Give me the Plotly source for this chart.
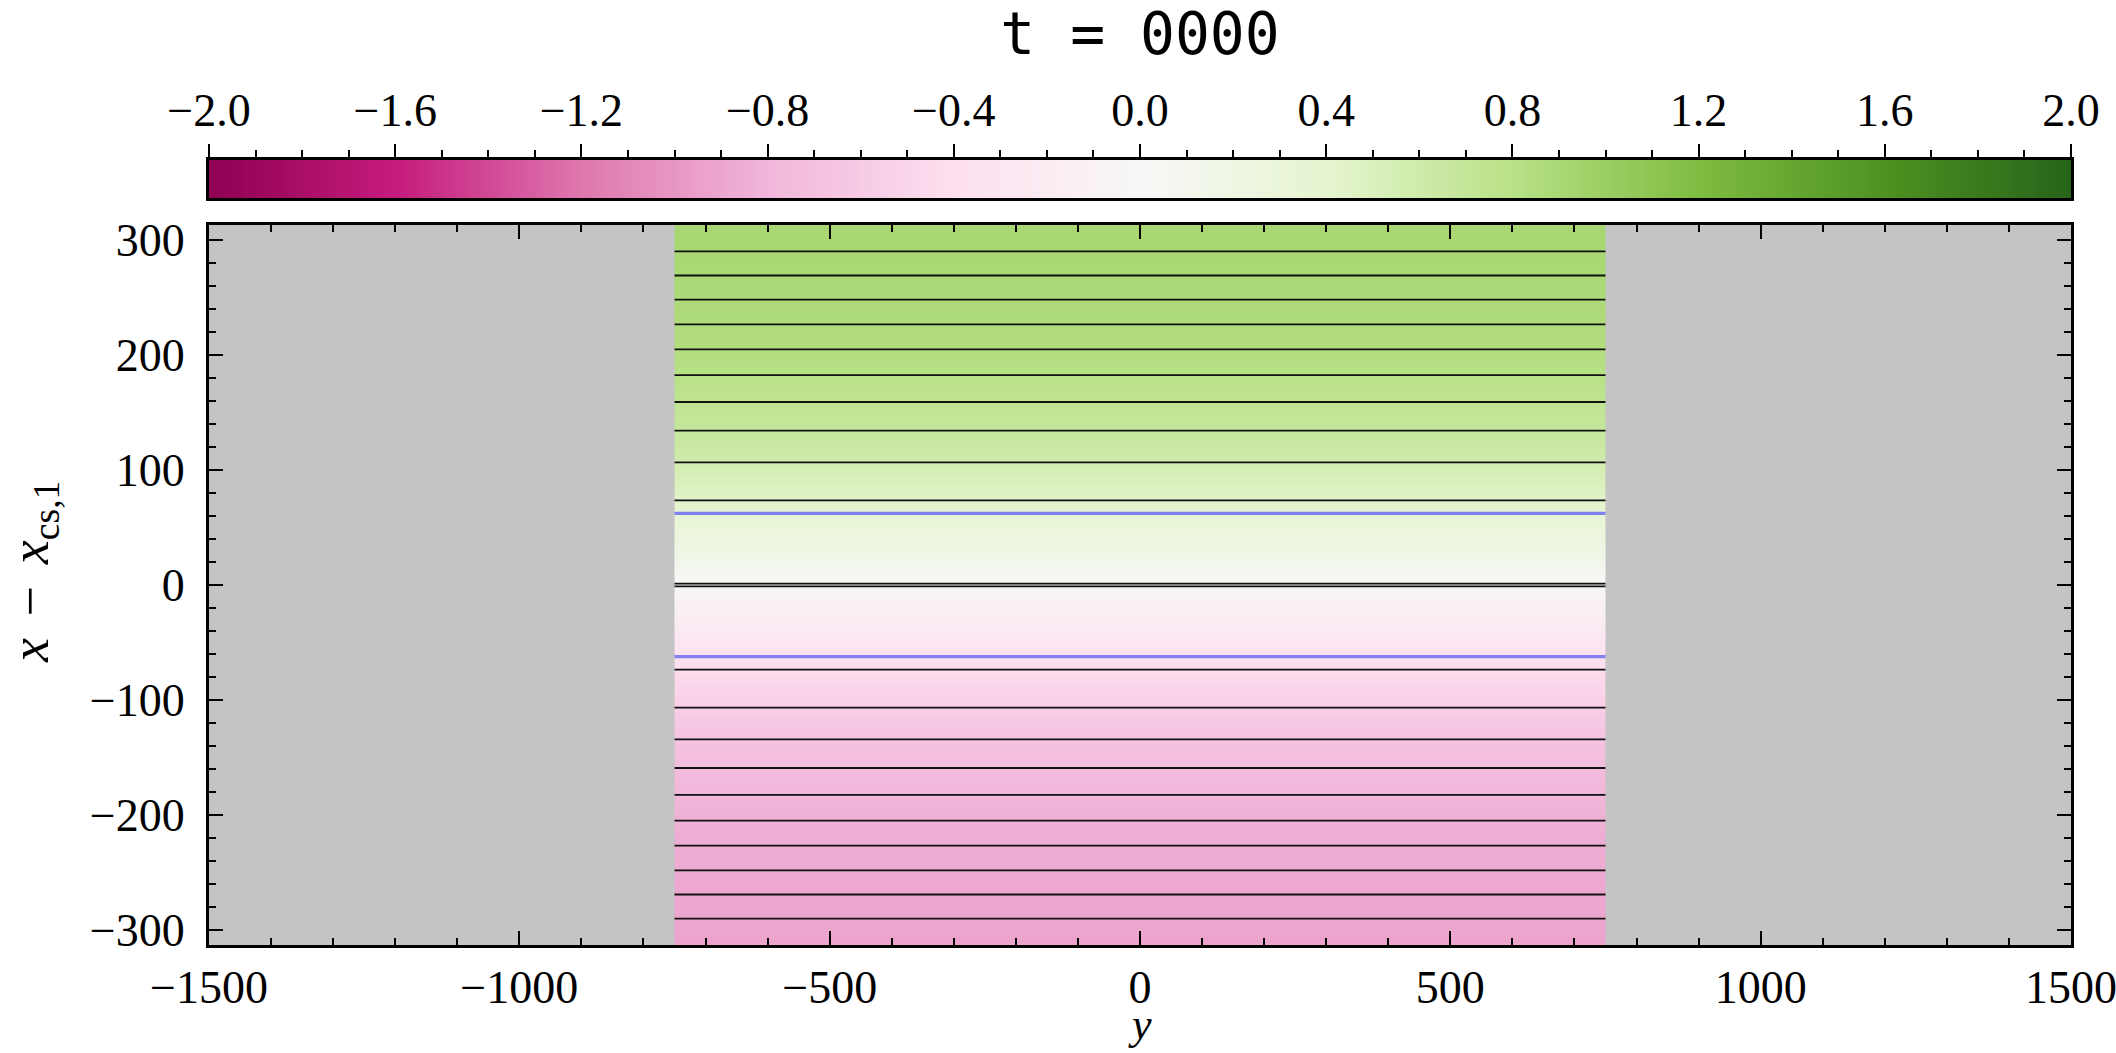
import numpy as np
import plotly.graph_objects as go

# Rows of the field image: x - x_cs,1
x_rows = [-325, -300, -275, -250, -225, -200, -175, -150, -125, -100, -75, -50, -25,
          0, 25, 50, 75, 100, 125, 150, 175, 200, 225, 250, 275, 300, 325]
# Field value on each row (uniform along y)
field = [-0.92, -0.91, -0.90, -0.88, -0.86, -0.83, -0.78, -0.72, -0.65, -0.55, -0.44, -0.30, -0.16,
         0.0, 0.16, 0.30, 0.44, 0.55, 0.65, 0.72, 0.78, 0.83, 0.86, 0.88, 0.90, 0.91, 0.92]
# Extent of the simulated box along y
y_box = [-750, 0, 750]
# Flux contour crossings (black) and separatrix (blue)
contour_levels = [-290.1, -269.1, -248.2, -226.6, -204.8, -182.4, -159.1, -134.2, -106.6, -73.5,
                  -1.2, 1.2, 73.5, 106.6, 134.2, 159.1, 182.4, 204.8, 226.6, 248.2, 269.1, 290.1]
separatrix_levels = [-62.3, 62.3]

# Axis ticks
y_ticks = [-1500, -1000, -500, 0, 500, 1000, 1500]
x_ticks = [-300, -200, -100, 0, 100, 200, 300]
cbar_ticks = [-2.0, -1.6, -1.2, -0.8, -0.4, 0.0, 0.4, 0.8, 1.2, 1.6, 2.0]
title_text = "t = 0000"

ZMIN, ZMAX = -2.0, 2.0
SERIF = "Liberation Serif"
FS = 46


def minus(s):
    return s.replace("-", "\u2212")


fig = go.Figure()

# field image
fig.add_trace(go.Heatmap(
    x=y_box, y=x_rows, z=[[v, v] for v in field],
    colorscale="PiYG", zmin=ZMIN, zmax=ZMAX, zsmooth="best",
    showscale=False, hoverinfo="skip", xaxis="x", yaxis="y",
))


def hlines(levels):
    xs, ys = [], []
    for lv in levels:
        xs += [y_box[0], y_box[-1], None]
        ys += [lv, lv, None]
    return xs, ys


cx, cy = hlines(contour_levels)
fig.add_trace(go.Scatter(x=cx, y=cy, mode="lines", line=dict(color="#111111", width=1.8),
                         hoverinfo="skip", showlegend=False, xaxis="x", yaxis="y"))
sx, sy = hlines(separatrix_levels)
fig.add_trace(go.Scatter(x=sx, y=sy, mode="lines", line=dict(color="rgb(128,128,240)", width=3.2),
                         hoverinfo="skip", showlegend=False, xaxis="x", yaxis="y"))

# colour bar drawn as its own strip
cb_edges = np.linspace(ZMIN, ZMAX, 401)
cb_centers = 0.5 * (cb_edges[1:] + cb_edges[:-1])
fig.add_trace(go.Heatmap(
    x=cb_edges, y=[0, 1], z=[cb_centers],
    colorscale="PiYG", zmin=ZMIN, zmax=ZMAX,
    showscale=False, hoverinfo="skip", xaxis="x2", yaxis="y2",
))

tickfont = dict(family=SERIF, size=FS, color="black")
axis_common = dict(showline=True, linewidth=3, linecolor="black", showgrid=False,
                   zeroline=False, tickfont=tickfont, tickcolor="black", automargin=False,
                   ticklabeloverflow="allow")

W, H = 2116, 1053
left_m, right_m = 209, 45
top_m, bot_m = 160, 108
plot_w = W - left_m - right_m
plot_h = H - top_m - bot_m
main_top = (945 - 225) / plot_h
cb_bot = (945 - 198) / plot_h

SP = "\u2009\u2009"

fig.update_layout(
    width=W, height=H,
    margin=dict(l=left_m, r=right_m, t=top_m, b=bot_m),
    paper_bgcolor="white",
    plot_bgcolor="#c4c4c4",
    showlegend=False,
    title=dict(text=title_text, x=0.5, xref="paper", xanchor="center",
               y=1 - 34 / H, yanchor="middle",
               font=dict(family="DejaVu Sans Mono", size=58, color="black")),
    xaxis=dict(
        **axis_common, domain=[0, 1], anchor="y", range=[-1500, 1500],
        tickvals=y_ticks, ticktext=[minus(str(v)) for v in y_ticks],
        ticks="inside", ticklen=14, tickwidth=2, mirror="allticks",
        minor=dict(ticks="inside", dtick=100, tick0=0, ticklen=7, tickwidth=1.5, tickcolor="black"),
    ),
    yaxis=dict(
        **axis_common, domain=[0, main_top], anchor="x", range=[-313, 313],
        tickvals=x_ticks, ticktext=[minus(str(v)) for v in x_ticks],
        ticks="inside", ticklen=14, tickwidth=2, mirror="allticks", ticklabelstandoff=12,
        minor=dict(ticks="inside", dtick=20, tick0=0, ticklen=7, tickwidth=1.5, tickcolor="black"),
    ),
    xaxis2=dict(
        **axis_common, domain=[0, 1], anchor="y2", range=[ZMIN, ZMAX], side="top",
        tickvals=cbar_ticks, ticktext=[minus(f"{v:.1f}") for v in cbar_ticks],
        ticks="outside", ticklen=13, tickwidth=2, mirror=True,
        minor=dict(ticks="outside", dtick=0.1, tick0=0, ticklen=7, tickwidth=1.5, tickcolor="black"),
    ),
    yaxis2=dict(
        **axis_common, domain=[cb_bot, 1], anchor="x2", range=[0, 1],
        showticklabels=False, ticks="", mirror=True,
    ),
    annotations=[
        # x-axis title
        dict(text="<i>y</i>", xref="paper", yref="paper", x=0.5, y=(945 - 1024) / plot_h,
             xanchor="center", yanchor="middle", showarrow=False,
             font=dict(family=SERIF, size=44, color="black")),
        # y-axis title
        dict(text="<i>x</i>" + SP + "\u2212" + SP + "<i>x</i><sub>cs,1</sub>",
             xref="paper", yref="paper", x=(33 - left_m) / plot_w, y=(945 - 572) / plot_h,
             xanchor="center", yanchor="middle", textangle=-90, showarrow=False,
             font=dict(family=SERIF, size=54, color="black")),
    ],
)

fig.write_html("out.html")
